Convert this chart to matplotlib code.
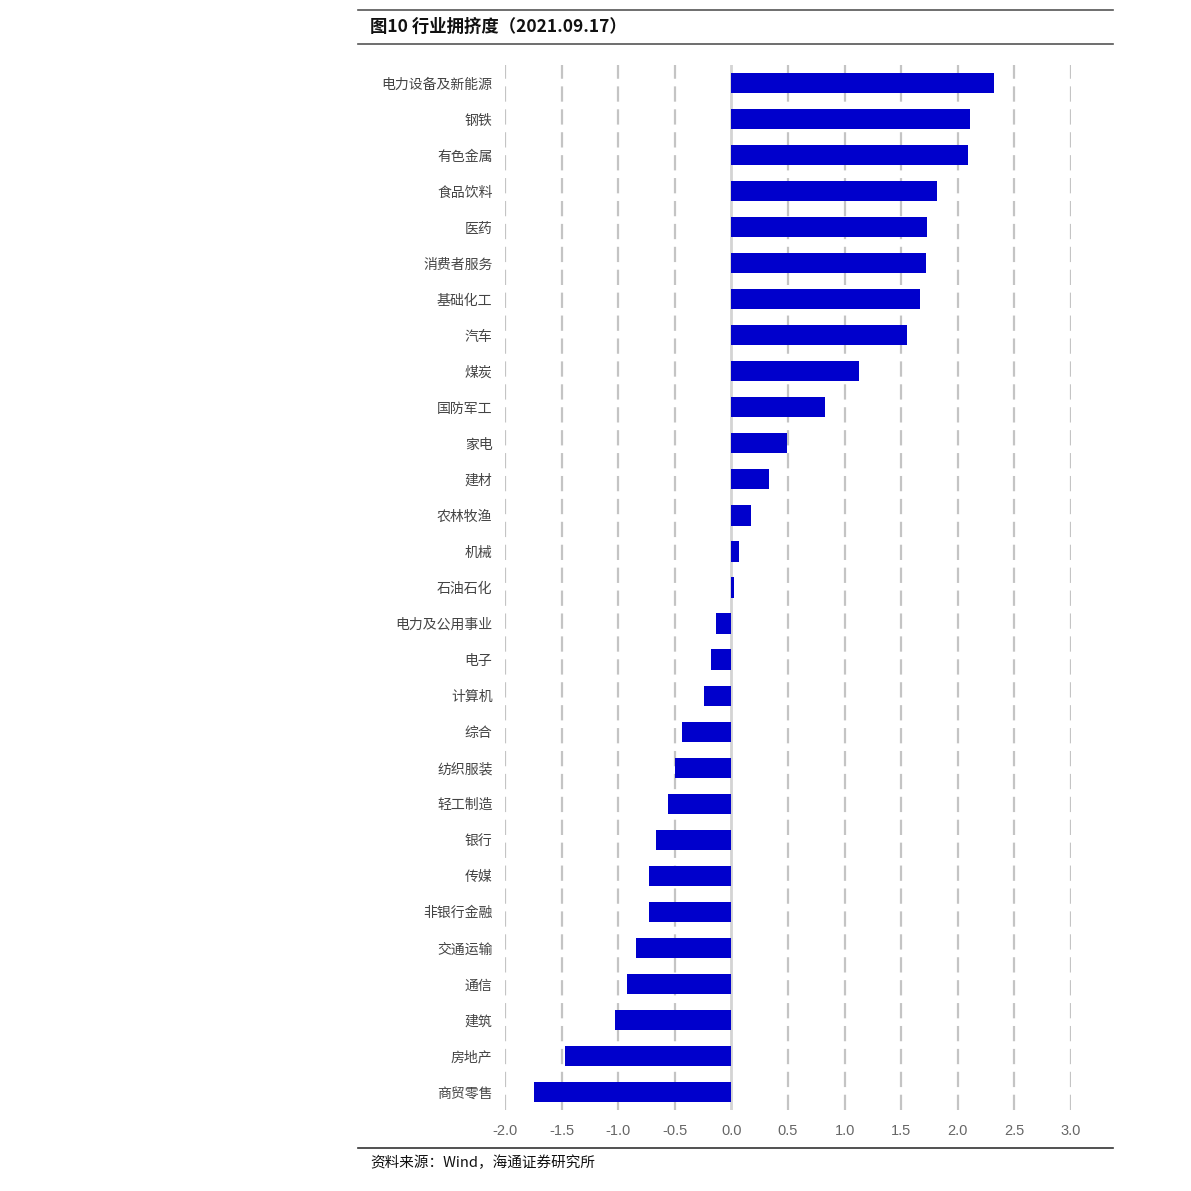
import matplotlib
matplotlib.use("Agg")
import matplotlib.pyplot as plt
from matplotlib.lines import Line2D

plt.rcParams['font.family'] = ['Noto Sans CJK SC', 'DejaVu Sans']
plt.rcParams['lines.scale_dashes'] = False

categories = ["电力设备及新能源", "钢铁", "有色金属", "食品饮料", "医药", "消费者服务",
              "基础化工", "汽车", "煤炭", "国防军工", "家电", "建材", "农林牧渔", "机械",
              "石油石化", "电力及公用事业", "电子", "计算机", "综合", "纺织服装", "轻工制造",
              "银行", "传媒", "非银行金融", "交通运输", "通信", "建筑", "房地产", "商贸零售"]
values = [2.32, 2.11, 2.09, 1.82, 1.73, 1.72, 1.67, 1.55, 1.13, 0.83, 0.49, 0.33, 0.17,
          0.07, 0.02, -0.14, -0.18, -0.24, -0.44, -0.50, -0.56, -0.67, -0.73, -0.73,
          -0.84, -0.92, -1.03, -1.47, -1.74]
xticks = [-2.0, -1.5, -1.0, -0.5, 0.0, 0.5, 1.0, 1.5, 2.0, 2.5, 3.0]
title = "图10 行业拥挤度（2021.09.17）"
source = "资料来源：Wind，海通证券研究所"

fig = plt.figure(figsize=(11.91, 11.91), dpi=100)
ax = fig.add_axes([505/1191, 1 - 1110/1191, (1071-505)/1191, (1110-65)/1191])

n = len(categories)
ypos = list(range(n))
for t in xticks:
    if t == 0.0:
        continue
    ax.axvline(t, color='#c4c4c4', lw=1.6, dashes=(11, 5.5), zorder=0)
ax.axvline(0, color='#d4d4d4', lw=2.0, zorder=1)
ax.barh(ypos, values, height=0.56, color='#0000CC', zorder=2)

ax.set_xlim(-2.0, 3.0)
ax.set_ylim(n - 0.5, -0.5)
ax.set_yticks(ypos)
ax.set_yticklabels(categories, fontsize=10, color='#444444')
ax.set_xticks(xticks)
ax.set_xticklabels([f"{t:.1f}" for t in xticks], fontsize=10.5, color='#666666',
                   family=['Liberation Sans', 'DejaVu Sans'])
ax.tick_params(axis='both', length=0)
ax.tick_params(axis='y', pad=9)
ax.tick_params(axis='x', pad=10)
for s in ax.spines.values():
    s.set_visible(False)

# header and footer rules
x0, x1 = 358/1191, 1113/1191
for yy, c, w in [(10, '#555555', 1.2), (44, '#555555', 1.2), (1148, '#333333', 1.2)]:
    fig.add_artist(Line2D([x0, x1], [1 - yy/1191, 1 - yy/1191], color=c, lw=w,
                          transform=fig.transFigure))
fig.text(370/1191, 1 - 27/1191, title, fontsize=12.5, fontweight='bold', va='center',
         ha='left', color='#111111')
fig.text(370/1191, 1 - 1163/1191, source, fontsize=10.5, va='center', ha='left',
         color='#111111')

fig.savefig("out.png", dpi=100, facecolor='white')
